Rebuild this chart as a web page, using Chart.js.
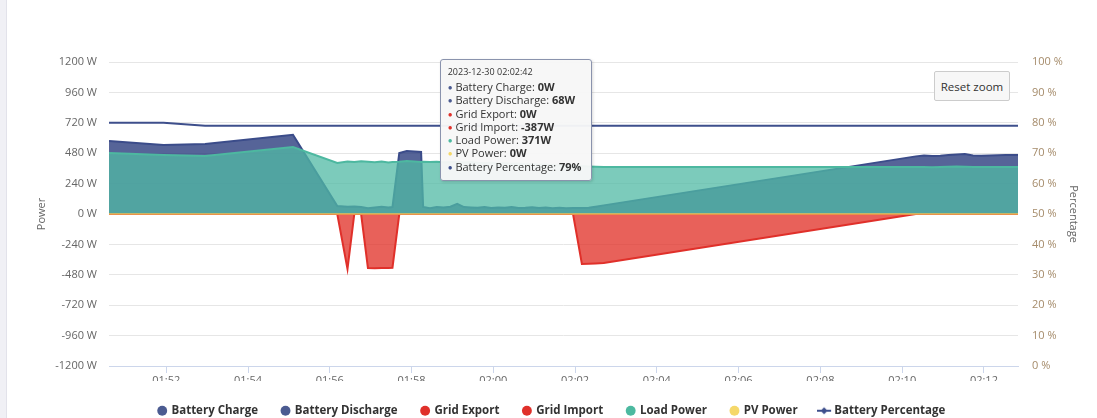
<!DOCTYPE html>
<html>
<head>
<meta charset="utf-8">
<script src="https://cdn.jsdelivr.net/npm/chart.js@4.4.1/dist/chart.umd.min.js"></script>
<style>
  html, body { margin: 0; padding: 0; background: #fff; }
  body { width: 1097px; height: 418px; overflow: hidden; position: relative; font-family: "Open Sans", sans-serif; }
  .side { position: absolute; left: 0; top: 0; width: 6px; height: 418px; background: #f0f0f5; border-right: 1px solid #e2e2ea; }
  .wrap { position: absolute; left: 7px; top: 0; width: 1090px; height: 418px; }
  #resetZoom {
    position: absolute; left: 927px; top: 71px; width: 76px; height: 30px; box-sizing: border-box;
    background: #f7f7f7; border: 1px solid #cccccc; border-radius: 2px; padding: 0;
    font: 11.5px "Open Sans", sans-serif; color: #333;
  }
  #tip {
    position: absolute; display: none; pointer-events: none; white-space: nowrap;
    background: rgba(247, 247, 247, 0.96); border: 1px solid #8a93ad; border-radius: 3px;
    box-shadow: 1px 1px 3px rgba(0, 0, 0, 0.15);
    padding: 5px 10px 7px 7px; font-size: 11px; color: #333;
  }
  #tip div { height: 13.25px; line-height: 13.25px; overflow: visible; }
  #tip .t { font-size: 9px; height: 13px; line-height: 13px; margin-bottom: 2px; }
  #tip .d { font-size: 8px; line-height: 0; vertical-align: 1px; }
</style>
</head>
<body>
<div class="side"></div>
<div class="wrap">
  <canvas id="powerChart"></canvas>
  <button id="resetZoom">Reset zoom</button>
  <div id="tip"></div>
</div>
<script>
// Inverter power flows, 2023-12-30, roughly 01:50 to 02:13.
const times = [
  '01:50:36','01:51:56','01:52:57','01:55:06','01:56:11','01:56:26','01:56:36','01:56:46',
  '01:56:56','01:57:06','01:57:16','01:57:26','01:57:32','01:57:42','01:57:53','01:58:04',
  '01:58:14','01:58:17','01:58:27','01:58:37','01:58:47','01:58:57','01:59:07','01:59:17',
  '01:59:27','01:59:37','01:59:47','01:59:57','02:00:07','02:00:17','02:00:27','02:00:37',
  '02:00:47','02:00:57','02:01:07','02:01:17','02:01:27','02:01:37','02:01:47','02:01:57',
  '02:02:10','02:02:20','02:02:30','02:02:42','02:10:20','02:10:32','02:10:44','02:10:56',
  '02:11:08','02:11:20','02:11:32','02:11:44','02:11:56','02:12:08','02:12:20','02:12:32',
  '02:12:50'
];

const batteryCharge = [
  0,0,0,0,0,0,0,0, 0,0,0,0,0,0,0,0, 0,0,0,0,0,0,0,0, 0,0,0,0,0,0,0,0,
  0,0,0,0,0,0,0,0, 0,0,0,0,0,0,0,0, 0,0,0,0,0,0,0,0, 0
];

const batteryDischarge = [
  576,545,553,626,63,58,60,55, 45,52,58,52,55,482,497,494,
  490,55,45,55,52,58,80,55, 52,50,55,48,52,50,55,48,
  50,54,48,52,46,50,45,48, 47,50,58,68,455,462,458,460,
  466,470,474,462,460,462,464,465, 466
];

const gridExport = [
  0,0,0,0,0,0,0,0, 0,0,0,0,0,0,0,0, 0,0,0,0,0,0,0,0, 0,0,0,0,0,0,0,0,
  0,0,0,0,0,0,0,0, 0,0,0,0,0,0,0,0, 0,0,0,0,0,0,0,0, 0
];

const gridImport = [
  0,0,0,0,0,-434,0,0, -426,-428,-427,-426,-424,0,0,0,
  0,0,0,0,0,0,0,0, 0,0,0,0,0,0,0,0,
  0,0,0,0,0,0,0,0, -395,-392,-390,-387,0,0,0,0,
  0,0,0,0,0,0,0,0, 0
];

const loadPower = [
  482,466,458,529,403,415,410,416, 412,408,414,406,410,412,418,414,
  410,412,410,412,408,410,412,406, 410,404,402,404,398,400,396,398,
  392,394,388,390,386,384,382,380, 378,375,373,371,371,372,370,372,
  373,375,374,372,371,372,371,371, 371
];

const pvPower = [
  0,0,0,0,0,0,0,0, 0,0,0,0,0,0,0,0, 0,0,0,0,0,0,0,0, 0,0,0,0,0,0,0,0,
  0,0,0,0,0,0,0,0, 0,0,0,0,0,0,0,0, 0,0,0,0,0,0,0,0, 0
];

const batteryPercentage = [
  80,80,79,79,79,79,79,79, 79,79,79,79,79,79,79,79, 79,79,79,79,79,79,79,79,
  79,79,79,79,79,79,79,79, 79,79,79,79,79,79,79,79, 79,79,79,79,79,79,79,79,
  79,79,79,79,79,79,79,79, 79
];

const xTickLabels = ['01:52','01:54','01:56','01:58','02:00','02:02','02:04','02:06','02:08','02:10','02:12'];
const xStart = '01:50:36';
const xEnd = '02:12:50';
const tooltipTime = '02:02:42';
const chartDate = '2023-12-30';

const toSec = t => {
  const [h, m, s] = t.split(':').map(Number);
  return h * 3600 + m * 60 + (s || 0);
};
const xs = times.map(toSec);
const pts = arr => arr.map((v, i) => ({ x: xs[i], y: v }));

// little "line with a diamond" icon for the percentage legend entry
function percentIcon(color) {
  const c = document.createElement('canvas');
  c.width = 16; c.height = 10;
  const g = c.getContext('2d');
  g.strokeStyle = color; g.lineWidth = 2;
  g.beginPath(); g.moveTo(0, 5); g.lineTo(14, 5); g.stroke();
  g.fillStyle = color;
  g.beginPath(); g.moveTo(7, 1.5); g.lineTo(10.5, 5); g.lineTo(7, 8.5); g.lineTo(3.5, 5); g.closePath(); g.fill();
  return c;
}

const blueLine = '#3b4c8a';
const blueFill = 'rgba(30, 48, 118, 0.75)';
const redLine = '#e0302a';
const redFill = 'rgba(224, 44, 35, 0.75)';

const datasets = [
  { label: 'Battery Charge', data: pts(batteryCharge), yAxisID: 'y', borderColor: blueLine, backgroundColor: blueFill, fill: 'origin', order: 6, legendColor: '#4b5b91' },
  { label: 'Battery Discharge', data: pts(batteryDischarge), yAxisID: 'y', borderColor: blueLine, backgroundColor: blueFill, fill: 'origin', order: 7, legendColor: '#4b5b91' },
  { label: 'Grid Export', data: pts(gridExport), yAxisID: 'y', borderColor: redLine, backgroundColor: redFill, fill: 'origin', order: 4, legendColor: '#e0302a' },
  { label: 'Grid Import', data: pts(gridImport), yAxisID: 'y', borderColor: redLine, backgroundColor: redFill, fill: 'origin', order: 5, legendColor: '#e0302a' },
  { label: 'Load Power', data: pts(loadPower), yAxisID: 'y', borderColor: '#4db8a0', backgroundColor: 'rgba(80, 185, 164, 0.75)', fill: 'origin', order: 3, legendColor: '#4cb9a0' },
  { label: 'PV Power', data: pts(pvPower), yAxisID: 'y', borderColor: 'rgba(242, 200, 90, 0.65)', backgroundColor: 'rgba(245, 214, 100, 0.75)', fill: 'origin', order: 2, legendColor: '#f5d86a' },
  { label: 'Battery Percentage', data: pts(batteryPercentage), yAxisID: 'y1', borderColor: '#3e4f8c', fill: false, order: 1, legendColor: '#3e4f8c', legendIcon: percentIcon('#3e4f8c') }
];

// Highcharts-like HTML tooltip with bold values
function renderTip({ chart, tooltip }) {
  const tip = document.getElementById('tip');
  if (!tooltip.dataPoints || !tooltip.dataPoints.length) { tip.style.display = 'none'; return; }
  const items = [...tooltip.dataPoints].sort((a, b) => a.datasetIndex - b.datasetIndex);
  let html = '<div class="t">' + tooltip.title[0] + '</div>';
  items.forEach(it => {
    const ds = it.dataset;
    const unit = ds.yAxisID === 'y1' ? '%' : 'W';
    html += '<div><span class="d" style="color:' + ds.legendColor + '">\u25CF</span> ' +
      ds.label + ': <b>' + it.raw.y + unit + '</b></div>';
  });
  tip.innerHTML = html;
  tip.style.display = 'block';
  tip.style.left = (chart.canvas.offsetLeft + tooltip.caretX - tip.offsetWidth - 11) + 'px';
  tip.style.top = (chart.canvas.offsetTop + chart.chartArea.top - 3) + 'px';
}

Chart.defaults.font.family = '"Open Sans", sans-serif';
Chart.defaults.color = '#666666';

const chart = new Chart(document.getElementById('powerChart').getContext('2d'), {
  type: 'line',
  data: { datasets },
  options: {
    responsive: true,
    maintainAspectRatio: false,
    animation: false,
    layout: { padding: { top: 62, left: 0, right: 0, bottom: 0 } },
    interaction: { mode: 'index', intersect: false },
    elements: {
      line: { tension: 0, borderWidth: 2 },
      point: { radius: 0, hoverRadius: 0 }
    },
    plugins: {
      legend: {
        position: 'bottom',
        maxHeight: 37,
        labels: {
          usePointStyle: true,
          boxWidth: 7,
          boxHeight: 7,
          padding: 24,
          color: '#333333',
          font: { size: 11.5, weight: 'bold' },
          sort: (a, b) => a.datasetIndex - b.datasetIndex,
          generateLabels: c => Chart.defaults.plugins.legend.labels.generateLabels(c).map(item => {
            const ds = c.data.datasets[item.datasetIndex];
            item.fillStyle = ds.legendColor;
            item.strokeStyle = ds.legendColor;
            item.lineWidth = 0;
            item.pointStyle = ds.legendIcon || 'circle';
            return item;
          })
        }
      },
      tooltip: {
        enabled: false,
        external: renderTip,
        callbacks: { title: items => chartDate + ' ' + times[items[0].dataIndex] }
      }
    },
    scales: {
      x: {
        type: 'linear',
        min: toSec(xStart),
        max: toSec(xEnd),
        afterBuildTicks: s => { s.ticks = xTickLabels.map(l => ({ value: toSec(l) })); },
        afterFit: s => { s.height = 15; },
        ticks: {
          callback: (v, i) => xTickLabels[i],
          color: '#666666',
          font: { size: 11 },
          padding: 1,
          maxRotation: 0,
          autoSkip: false
        },
        grid: { drawOnChartArea: false, drawTicks: true, tickLength: 7, color: '#ccd6eb' },
        border: { color: '#ccd6eb', width: 1 }
      },
      y: {
        position: 'left',
        min: -1200,
        max: 1200,
        afterFit: s => { s.width = 102; },
        ticks: { stepSize: 240, padding: 12, color: '#666666', font: { size: 11 }, callback: v => v + ' W' },
        grid: { color: '#e6e6e6', drawTicks: false },
        border: { display: false },
        title: { display: true, text: 'Power', color: '#666666', font: { size: 11 }, padding: { top: 28, bottom: 0 } }
      },
      y1: {
        position: 'right',
        min: 0,
        max: 100,
        afterFit: s => { s.width = 79; },
        ticks: { stepSize: 10, padding: 14, color: '#a58b6a', font: { size: 11 }, callback: v => v + ' %' },
        grid: { drawOnChartArea: false, drawTicks: false },
        border: { display: false },
        title: { display: true, text: 'Percentage', color: '#666666', font: { size: 11 }, padding: { top: 17, bottom: 0 } }
      }
    }
  }
});

// show the tooltip the way it was captured
const tipIndex = times.indexOf(tooltipTime);
chart.tooltip.setActiveElements(
  datasets.map((d, i) => ({ datasetIndex: i, index: tipIndex })),
  { x: chart.scales.x.getPixelForValue(xs[tipIndex]), y: chart.chartArea.top }
);
</script>
</body>
</html>
